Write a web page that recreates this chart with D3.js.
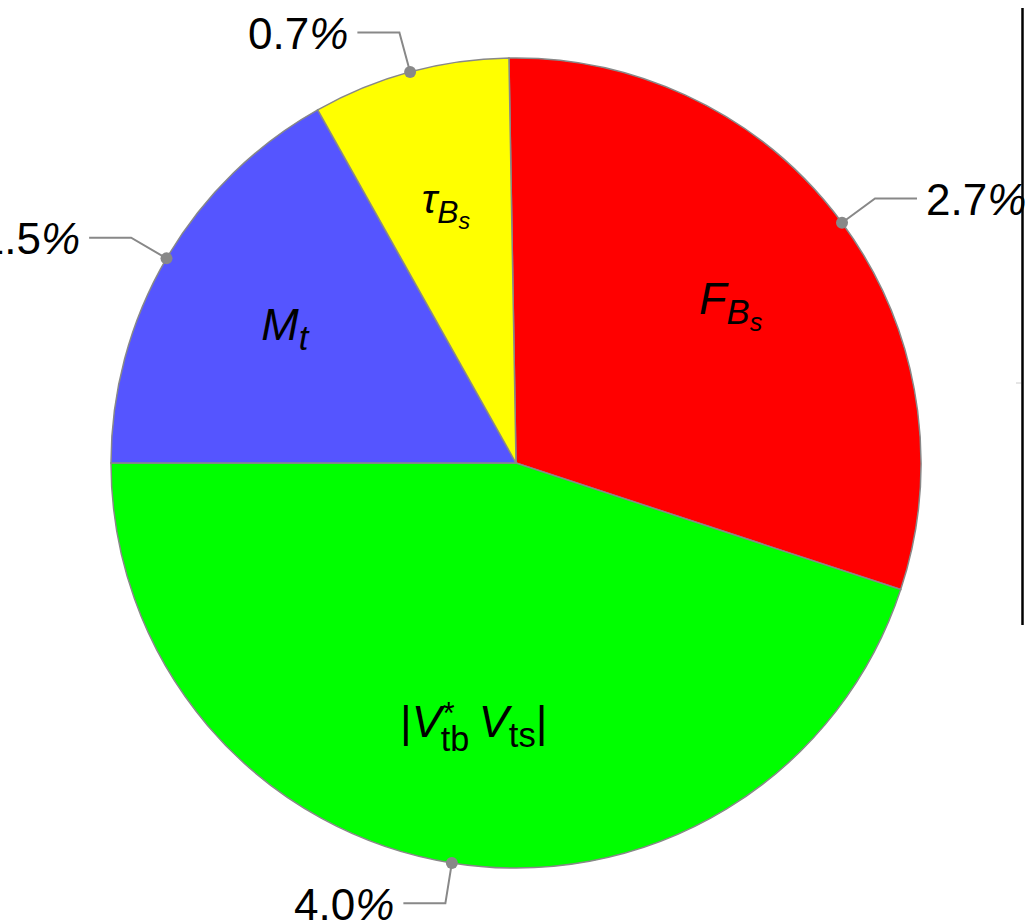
<!DOCTYPE html>
<html>
<head>
<meta charset="utf-8">
<script src="https://cdn.jsdelivr.net/npm/d3@7/dist/d3.min.js"></script>
<style>
  html, body { margin: 0; padding: 0; background: #fff; }
  svg { display: block; }
  text { font-family: "Liberation Sans", Arial, Helvetica, sans-serif; }
</style>
</head>
<body>
<svg id="chart" width="1025" height="923"></svg>
<script>
// ---- data ----
const categories = ["F_Bs", "Vtb_Vts", "M_t", "tau_Bs"];
const values = [2.7, 4.0, 1.5, 0.7];
const percentLabels = ["2.7%", "4.0%", "1.5%", "0.7%"];
const colors = ["#ff0000", "#00ff00", "#5555ff", "#ffff00"];

// label pieces per category: [text, level, italic]
const labelParts = {
  "F_Bs":   [["F", 0, true], ["B", 1, true], ["s", 2, true]],
  "tau_Bs": [["\u03C4", 0, true], ["B", 1, true], ["s", 2, true]],
  "M_t":    [["M", 0, true], ["t", 1, true]],
  "Vtb_Vts":[["|", 0, false], ["V", 0, true], ["*", "sup", false], ["tb", "substack", false], [" ", 1, false], ["V", 0, true], ["ts", 1, false], ["|", 0, false]]
};
const labelScale = {"F_Bs": 1, "tau_Bs": 0.92, "M_t": 1, "Vtb_Vts": 1};

// ---- layout ----
const svg = d3.select("#chart");
const cx = 516, cy = 463, R = 405;
const g = svg.append("g").attr("transform", `translate(${cx},${cy})`);

const deg = Math.PI / 180;
const pie = d3.pie().sort(null).value(d => d)
  .startAngle(-1 * deg).endAngle(359 * deg);
const arcs = pie(values);
const arc = d3.arc().innerRadius(0).outerRadius(R);
const labelArc = d3.arc().innerRadius(267).outerRadius(267);

g.selectAll("path.slice").data(arcs).join("path")
  .attr("class", "slice")
  .attr("d", arc)
  .attr("fill", (d, i) => colors[i])
  .attr("stroke", "#888")
  .attr("stroke-width", 1.5);

// inner labels
const mainSize = 45;
const sizes = {0: 1, 1: 0.77, 2: 0.56, sup: 0.68, substack: 0.76};
const shifts = {0: 0, 1: 10, 2: 17, sup: -13, substack: 14};

arcs.forEach((a, i) => {
  const cat = categories[i];
  const sc = labelScale[cat];
  const lg = g.append("g");
  let x = 0, lastStart = 0;
  labelParts[cat].forEach(([t, lvl, it]) => {
    const fs = mainSize * sizes[lvl] * sc;
    const isStack = lvl === "substack";
    const startX = isStack ? lastStart - 2 : (lvl === "sup" ? x + 1 : x);
    const te = lg.append("text")
      .attr("x", startX)
      .attr("y", shifts[lvl] * sc)
      .attr("font-size", fs)
      .attr("font-style", it ? "italic" : "normal")
      .attr("fill", "#000")
      .attr("xml:space", "preserve")
      .style("white-space", "pre")
      .text(t);
    const w = te.node().getComputedTextLength();
    if (isStack) {
      x = Math.max(x, startX + w);
    } else {
      lastStart = startX;
      x = startX + w;
    }
  });
  const bb = lg.node().getBBox();
  const [px, py] = labelArc.centroid(a);
  lg.attr("transform", `translate(${px - (bb.x + bb.width / 2)},${py - (bb.y + bb.height / 2)})`);
});

// leader lines and percent labels
const pt = (ang, r) => [r * Math.sin(ang), -r * Math.cos(ang)];
arcs.forEach((a, i) => {
  const mid = (a.startAngle + a.endAngle) / 2;
  const p0 = pt(mid, R);
  const p1 = pt(mid, R + 41);
  const side = Math.sin(mid) >= 0 ? 1 : -1;
  const p2 = [p1[0] + side * 42, p1[1]];
  g.append("polyline")
    .attr("points", [p0, p1, p2].map(p => p.join(",")).join(" "))
    .attr("fill", "none")
    .attr("stroke", "#888")
    .attr("stroke-width", 2);
  g.append("circle")
    .attr("cx", p0[0]).attr("cy", p0[1]).attr("r", 6)
    .attr("fill", "#888");
  const lab = percentLabels[i];
  const txt = g.append("text")
    .attr("x", p2[0] + side * 9)
    .attr("y", p2[1])
    .attr("dy", "0.37em")
    .attr("font-size", 44)
    .attr("text-anchor", side > 0 ? "start" : "end")
    .attr("fill", "#000");
  txt.append("tspan").text(lab.slice(0, -1));
  txt.append("tspan").attr("font-style", "italic").text("%");
});

// cut-off legend frame at right edge
svg.append("line")
  .attr("x1", 1022.5).attr("x2", 1022.5)
  .attr("y1", 8).attr("y2", 625)
  .attr("stroke", "#000").attr("stroke-width", 2.5);
svg.append("line")
  .attr("x1", 1016).attr("x2", 1021)
  .attr("y1", 383).attr("y2", 383)
  .attr("stroke", "#ccc").attr("stroke-width", 1);
</script>
</body>
</html>
